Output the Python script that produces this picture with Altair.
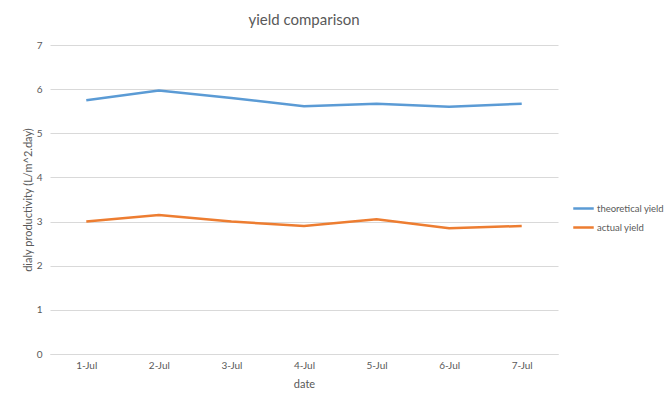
import altair as alt
import pandas as pd

# Daily yield per date, in L/m^2.day
dates = ["1-Jul", "2-Jul", "3-Jul", "4-Jul", "5-Jul", "6-Jul", "7-Jul"]
theoretical_yield = [5.75, 5.97, 5.80, 5.61, 5.67, 5.60, 5.67]
actual_yield = [3.00, 3.15, 3.00, 2.90, 3.05, 2.85, 2.90]
series_names = ["theoretical yield", "actual yield"]
series_colors = ["#5B9BD5", "#ED7D31"]

rows = []
for name, values in zip(series_names, [theoretical_yield, actual_yield]):
    for d, v in zip(dates, values):
        rows.append({"date": d, "series": name, "value": v})
df = pd.DataFrame(rows)

FONT = "Lato"
TEXT = "#595959"
GRID = "#D9D9D9"

chart = (
    alt.Chart(df)
    .mark_line(strokeWidth=2.5)
    .encode(
        x=alt.X(
            "date:N",
            sort=dates,
            title="date",
            scale=alt.Scale(paddingInner=0, paddingOuter=0),
            axis=alt.Axis(
                labelAngle=0,
                ticks=False,
                domain=True,
                domainColor=GRID,
                labelPadding=6,
                titlePadding=8,
            ),
        ),
        y=alt.Y(
            "value:Q",
            title="dialy productivity (L/m^2.day)",
            scale=alt.Scale(domain=[0, 7]),
            axis=alt.Axis(
                values=[0, 1, 2, 3, 4, 5, 6, 7],
                ticks=False,
                domain=False,
                labelPadding=8,
                titlePadding=3,
                gridColor=GRID,
            ),
        ),
        color=alt.Color(
            "series:N",
            sort=series_names,
            scale=alt.Scale(domain=series_names, range=series_colors),
            legend=alt.Legend(
                title=None,
                orient="none",
                legendX=522,
                legendY=152,
                symbolType="stroke",
                symbolStrokeWidth=2.5,
                symbolSize=420,
                labelOffset=2,
                rowPadding=2,
                labelLimit=200,
            ),
        ),
    )
    .properties(
        width=508,
        height=309,
        title=alt.TitleParams(
            "yield comparison",
            fontSize=15,
            font=FONT,
            fontWeight="normal",
            color=TEXT,
            anchor="middle",
            offset=12,
        ),
        autosize=alt.AutoSizeParams(type="none"),
        padding={"left": 50, "top": 45, "right": 108, "bottom": 51},
    )
    .configure_view(stroke=None)
    .configure_axis(
        labelFont=FONT,
        titleFont=FONT,
        labelFontSize=10,
        titleFontSize=11,
        labelColor=TEXT,
        titleColor=TEXT,
        titleFontWeight="normal",
    )
    .configure_legend(labelFont=FONT, labelFontSize=9.5, labelColor=TEXT)
)

chart.save("out.html", embed_options={"renderer": "svg", "actions": False})
